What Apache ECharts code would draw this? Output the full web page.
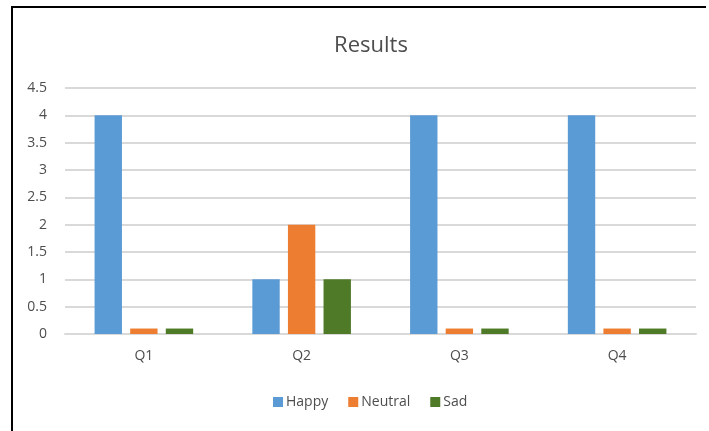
<!DOCTYPE html>
<html>
<head>
<meta charset="utf-8">
<script src="https://cdn.jsdelivr.net/npm/echarts@6/dist/echarts.min.js"></script>
<style>
  html, body { margin: 0; padding: 0; background: #ffffff; }
  #chart { width: 709px; height: 431px; }
</style>
</head>
<body>
<div id="chart"></div>
<script>
// Survey results per question
const categories = ['Q1', 'Q2', 'Q3', 'Q4'];
const happy = [4, 1, 4, 4];
const neutral = [0.1, 2, 0.1, 0.1];
const sad = [0.1, 1, 0.1, 0.1];
const yTicks = ['0', '0.5', '1', '1.5', '2', '2.5', '3', '3.5', '4', '4.5'];

const FONT = '"Open Sans", "Liberation Sans", sans-serif';
const TEXT = '#4d4d4d';

const chart = echarts.init(document.getElementById('chart'), null, { renderer: 'canvas' });

chart.setOption({
  backgroundColor: '#ffffff',
  animation: false,
  title: {
    text: 'Results',
    left: 366,
    textAlign: 'center',
    top: 30,
    textStyle: { color: TEXT, fontSize: 22, fontWeight: 'normal', fontFamily: FONT }
  },
  legend: {
    data: ['Happy', 'Neutral', 'Sad'],
    left: 268,
    top: 390,
    itemWidth: 10,
    itemHeight: 10,
    itemGap: 20,
    icon: 'rect',
    textStyle: { color: TEXT, fontSize: 14, fontFamily: FONT, padding: [0, 0, 0, -2] }
  },
  grid: { left: 65, right: 13, top: 88, bottom: 97, containLabel: false },
  xAxis: {
    type: 'category',
    data: categories,
    axisLine: { lineStyle: { color: '#d9d9d9', width: 2 } },
    axisTick: { show: false },
    axisLabel: { color: TEXT, fontSize: 14, fontFamily: FONT, margin: 15 }
  },
  yAxis: {
    type: 'value',
    min: 0,
    max: 4.5,
    interval: 0.5,
    axisLine: { show: false },
    axisTick: { show: false },
    splitLine: { lineStyle: { color: '#d9d9d9', width: 2 } },
    axisLabel: {
      color: TEXT, fontSize: 14, fontFamily: FONT, margin: 18,
      formatter: v => yTicks[Math.round(v / 0.5)]
    }
  },
  series: [
    { name: 'Happy', type: 'bar', data: happy, itemStyle: { color: '#5b9bd5' },
      barGap: '30%', barCategoryGap: '37.5%' },
    { name: 'Neutral', type: 'bar', data: neutral, itemStyle: { color: '#ed7d31' } },
    { name: 'Sad', type: 'bar', data: sad, itemStyle: { color: '#4f7a28' } }
  ],
  graphic: [
    { type: 'line', shape: { x1: 12, y1: 7, x2: 12, y2: 431 }, style: { stroke: '#000', lineWidth: 2 } },
    { type: 'line', shape: { x1: 11, y1: 7, x2: 706, y2: 7 }, style: { stroke: '#000', lineWidth: 2 } }
  ]
});
</script>
</body>
</html>
